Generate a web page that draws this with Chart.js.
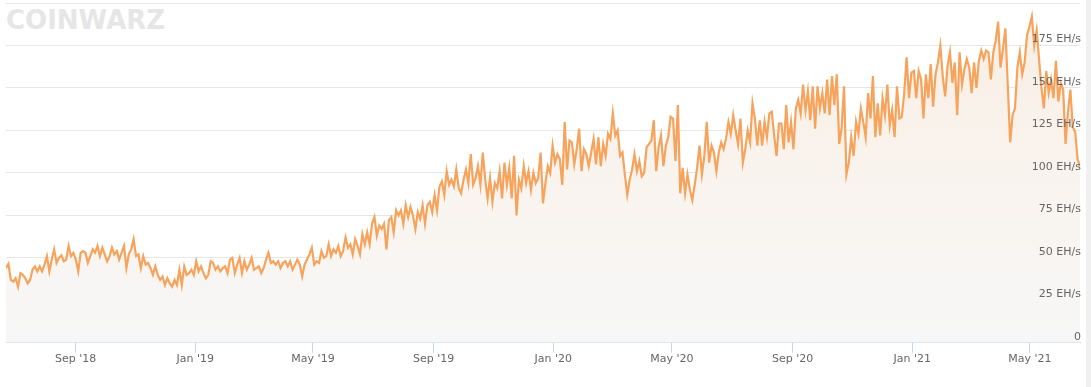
<!DOCTYPE html>
<html>
<head>
<meta charset="utf-8">
<title>Bitcoin Hashrate</title>
<script src="https://cdn.jsdelivr.net/npm/chart.js@4.4.0/dist/chart.umd.min.js"></script>
<style>
    html, body { margin: 0; padding: 0; background: #fff; }
    #wrap { position: relative; width: 1091px; height: 387px; overflow: hidden; }
    #logo {
        position: absolute; left: 6px; top: 5px;
        font: bold 26px "DejaVu Sans", sans-serif; color: #e6e6e6;
        letter-spacing: 0px;
    }
    #hashrate-chart { position: relative; }
    #side { position: absolute; right: 0; top: 0; width: 5px; height: 387px; background: #f0f0f0; }
</style>
</head>
<body>
<div id="wrap">
    <div id="logo">COINWARZ</div>
    <canvas id="hashrate-chart" width="1091" height="387"></canvas>
    <div id="side"></div>
</div>
<script>
// time span covered by the series (readings are evenly spaced across it)
const startDate = '2018-06-22';
const endDate = '2021-06-21';

// network hashrate, EH/s
const hashrateEH = [
    44, 46.5, 37, 36, 38, 33, 41, 40, 38, 35,
    37, 43, 45, 42, 45, 42, 46, 51, 42, 49,
    55, 47, 50, 51.5, 48, 49, 57, 51, 53, 49,
    42, 53, 54, 53, 47, 51, 55, 53, 57, 51,
    56, 52, 48, 51, 56, 52, 54, 49, 53, 57,
    44, 52, 55, 61, 51, 52, 44, 51, 46, 47,
    44, 40, 45, 40, 37, 39, 34, 38, 35, 33,
    37, 34, 43, 34, 45, 40, 41, 43, 40, 48,
    42, 45, 41, 38, 40, 48,
    47, 43, 45, 42, 44, 45, 41, 49, 50, 41,
    46, 50, 41, 48, 43, 46, 50, 43, 44, 45,
    41, 44, 49, 53, 47, 48, 46, 48, 44, 47,
    48, 45, 48, 43, 46, 49, 46, 39, 46, 49,
    52, 56, 46, 48, 47, 54, 50, 51, 58, 51,
    55, 53, 57, 51, 54, 62, 56, 58, 52, 61,
    57, 52, 64, 58, 65, 58, 70, 74, 63, 69,
    67, 70, 55, 72, 74, 65, 78, 75, 78, 70,
    81, 74, 80, 75, 67, 77, 73, 81, 70,
    81, 83, 77, 87, 78, 92, 95, 87, 101, 93,
    96, 92, 102, 91, 88, 96, 102, 94, 111, 93,
    97, 104, 93, 112, 96, 85, 97, 83, 94, 91,
    101, 85, 106, 93, 103, 85, 110, 75, 96, 91,
    104, 94, 101, 90, 100, 94, 97, 112, 82, 94,
    104, 100, 116, 106, 111, 108, 93, 130, 102, 119,
    118, 105, 114, 126, 101, 114, 111, 104, 112, 120,
    105, 121, 104, 117, 110, 123, 120, 135, 122, 125,
    110, 112, 99, 87, 96, 102, 111, 101, 107, 98,
    100, 115, 117, 119, 131, 101, 115, 122, 104, 116,
    121, 133, 132, 107, 140, 88, 103, 88, 99, 90,
    84, 93, 103, 116, 99, 110, 130, 106, 116, 112,
    101, 112, 118, 114, 120, 130, 123, 134, 125, 117,
    132, 106, 114, 125, 118, 141, 132, 116, 131, 116,
    130, 121, 135, 136, 122, 110, 129, 129, 114, 140,
    118, 130, 114, 138, 143, 135, 152, 137, 148, 131,
    151, 126, 151, 138, 147, 135, 155, 134, 157, 140,
    158, 117, 126, 151, 99, 106, 121, 110, 130, 123,
    138, 130, 121, 147, 132, 157, 121, 141, 122, 144,
    134, 152, 128, 137, 121, 151, 132, 133, 147, 168,
    144, 159, 160, 144, 160, 155, 132, 158, 144, 164,
    139, 158, 165, 175, 157, 145, 163, 171, 153, 165,
    134, 171, 152, 161, 167, 162, 147, 165, 150, 166,
    172, 167, 172, 171, 155, 171, 178, 189, 162, 173,
    185, 152, 118, 134, 138, 162, 171, 158, 165, 181,
    186, 192, 175, 184, 167, 150, 138, 160, 147, 155,
    144, 166, 142, 153, 149, 117, 136, 149, 127, 124,
    108, 104
];

// x axis ticks
const tickDates = ['2018-09-01', '2019-01-01', '2019-05-01', '2019-09-01', '2020-01-01',
                   '2020-05-01', '2020-09-01', '2021-01-01', '2021-05-01'];
const tickLabels = ["Sep '18", "Jan '19", "May '19", "Sep '19", "Jan '20",
                    "May '20", "Sep '20", "Jan '21", "May '21"];

// y axis
const yMax = 200;
const yStep = 25;
const yUnit = 'EH/s';

const dayMs = 86400000;
function dayOffset(d) {
    return (Date.parse(d) - Date.parse(startDate)) / dayMs;
}
const spanDays = dayOffset(endDate);
const stepDays = spanDays / (hashrateEH.length - 1);
const points = hashrateEH.map((v, i) => ({ x: i * stepDays, y: v }));
const tickDays = tickDates.map(dayOffset);

const labelFont = { family: 'DejaVu Sans', size: 11 };

new Chart(document.getElementById('hashrate-chart'), {
    type: 'line',
    data: {
        datasets: [{
            label: 'Hashrate',
            data: points,
            borderColor: '#f7a35c',
            borderWidth: 2.2,
            pointRadius: 0,
            tension: 0,
            fill: 'origin',
            backgroundColor: (ctx) => {
                const area = ctx.chart.chartArea;
                if (!area) return 'rgba(0,0,0,0)';
                const g = ctx.chart.ctx.createLinearGradient(0, area.top, 0, area.bottom);
                g.addColorStop(0, '#f9eee3');
                g.addColorStop(0.55, '#f9f4ef');
                g.addColorStop(1, '#f7f7f7');
                return g;
            }
        }]
    },
    options: {
        responsive: false,
        animation: false,
        layout: { padding: { left: 6, top: 3, right: 0, bottom: 21 } },
        plugins: {
            legend: { display: false },
            tooltip: { enabled: false }
        },
        scales: {
            x: {
                type: 'linear',
                min: 0,
                max: spanDays,
                afterBuildTicks: (s) => { s.ticks = tickDays.map(v => ({ value: v })); },
                ticks: {
                    autoSkip: false,
                    maxRotation: 0,
                    padding: 0,
                    color: '#666666',
                    font: labelFont,
                    callback: (v, i) => tickLabels[i]
                },
                grid: { drawOnChartArea: false, drawTicks: true, tickLength: 10, color: '#ccd6eb' },
                border: { display: true, color: '#ccd6eb' }
            },
            y: {
                position: 'right',
                min: 0,
                max: yMax,
                afterFit: (s) => { s.width = 11; s.paddingTop = 0; s.paddingBottom = 0; },
                ticks: {
                    stepSize: yStep,
                    mirror: true,
                    z: 1,          // labels on top of the series
                    padding: 1,
                    labelOffset: -6,
                    color: '#666666',
                    font: labelFont,
                    callback: (v) => v === 0 ? '0' : (v >= yMax ? '' : v + ' ' + yUnit)
                },
                grid: {
                    drawTicks: false,
                    color: (ctx) => ctx.tick && ctx.tick.value === 0 ? 'rgba(0,0,0,0)' : '#e6e6e6'
                },
                border: { display: false }
            }
        }
    }
});
</script>
</body>
</html>
